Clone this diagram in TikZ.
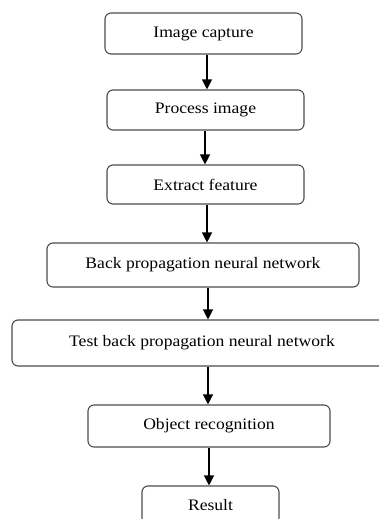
\documentclass[tikz,border=0pt]{standalone}
\usepackage{fontspec}
\setmainfont{Liberation Serif}[FakeStretch=1.1]
\usetikzlibrary{arrows.meta}
\begin{document}
\begin{tikzpicture}[x=1pt,y=-1pt,
  stepbox/.style={draw=black!70,line width=1.1pt,rounded corners=6pt,inner sep=0pt,
    font=\fontsize{16}{19}\selectfont},
  arr/.style={line width=1.2pt,-{Triangle[length=10pt,width=10pt]}}]
\useasboundingbox (0,0) rectangle (378,519);
\node[stepbox,minimum width=197pt,minimum height=41pt] (b1) at (203.5,33.5) {Image capture};
\node[stepbox,minimum width=197pt,minimum height=40pt] (b2) at (205.5,110) {Process image};
\node[stepbox,minimum width=197pt,minimum height=39pt] (b3) at (205.5,184.5) {Extract feature};
\node[stepbox,minimum width=312pt,minimum height=44pt] (b4) at (203,265) {Back propagation neural network};
\node[stepbox,minimum width=380pt,minimum height=46pt] (b5) at (202,343) {Test back propagation neural network};
\node[stepbox,minimum width=242pt,minimum height=42pt] (b6) at (209,426) {Object recognition};
\node[stepbox,minimum width=137pt,minimum height=38pt] (b7) at (210.5,505) {Result};
\draw[arr] (b1.south -| 207,0) -- (b2.north -| 207,0);
\draw[arr] (b2.south -| 205,0) -- (b3.north -| 205,0);
\draw[arr] (b3.south -| 207,0) -- (b4.north -| 207,0);
\draw[arr] (b4.south -| 208,0) -- (b5.north -| 208,0);
\draw[arr] (b5.south -| 208,0) -- (b6.north -| 208,0);
\draw[arr] (b6.south -| 209,0) -- (b7.north -| 209,0);
\end{tikzpicture}
\end{document}
